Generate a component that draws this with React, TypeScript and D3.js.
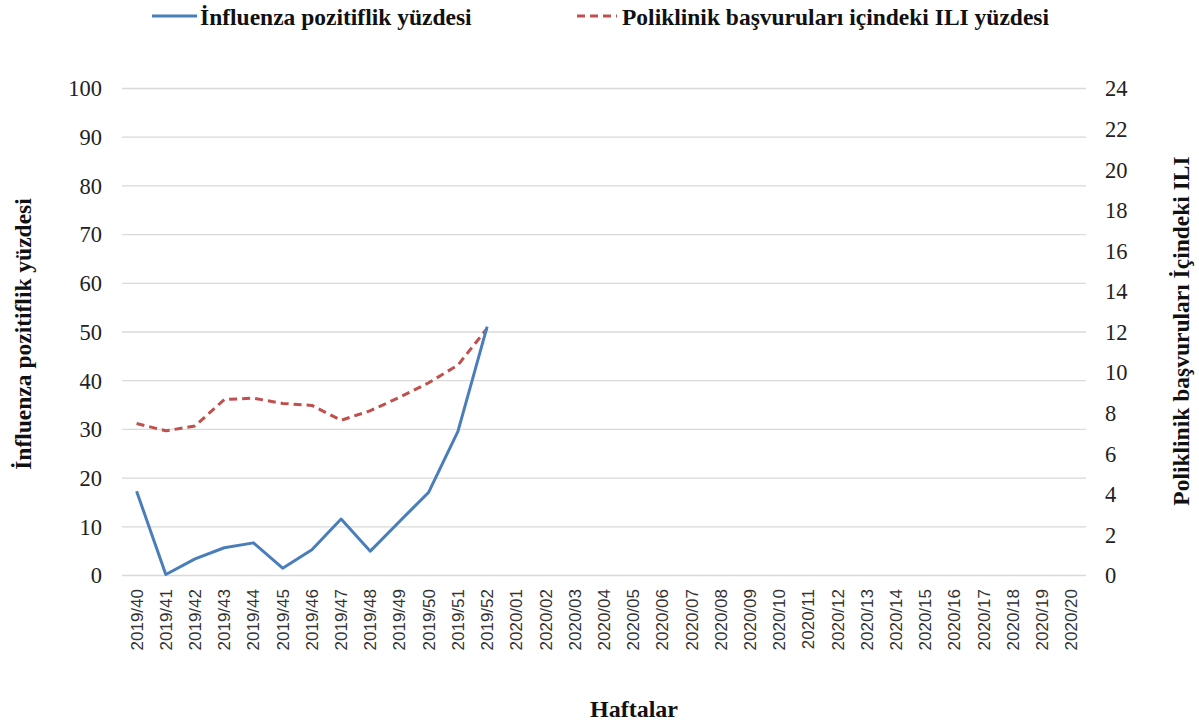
import React from "react";
import * as d3 from "d3";

const weeks: string[] = [
  "2019/40","2019/41","2019/42","2019/43","2019/44","2019/45","2019/46","2019/47","2019/48","2019/49","2019/50","2019/51","2019/52",
  "2020/01","2020/02","2020/03","2020/04","2020/05","2020/06","2020/07","2020/08","2020/09","2020/10",
  "2020/11","2020/12","2020/13","2020/14","2020/15","2020/16","2020/17","2020/18","2020/19","2020/20",
];
const influenzaPositivity: number[] = [17.3, 0.2, 3.4, 5.7, 6.7, 1.5, 5.3, 11.6, 5.0, 11.1, 17.1, 29.6, 51.1];
const iliPercent: number[] = [7.49, 7.13, 7.37, 8.67, 8.74, 8.48, 8.38, 7.65, 8.12, 8.78, 9.5, 10.37, 12.18];
const leftTicks: number[] = [0, 10, 20, 30, 40, 50, 60, 70, 80, 90, 100];
const rightTicks: number[] = [0, 2, 4, 6, 8, 10, 12, 14, 16, 18, 20, 22, 24];

const seriesNames = ["İnfluenza pozitiflik yüzdesi", "Poliklinik başvuruları içindeki ILI yüzdesi"];
const leftTitle = "İnfluenza pozitiflik yüzdesi";
const rightTitle = "Poliklinik başvuruları İçindeki ILI";
const xTitle = "Haftalar";

const W = 1199, H = 727;
const plot = { left: 122, right: 1086, top: 88.5, bottom: 575.5 };
const BLUE = "#4a7ebb";
const RED = "#c0504d";
const SERIF = "'Liberation Serif', 'Times New Roman', serif";
const SANS = "'Liberation Sans', Arial, sans-serif";

export default function App() {
  const x = d3.scaleBand<string>().domain(weeks).range([plot.left, plot.right]).padding(0);
  const cx = (w: string) => (x(w) as number) + x.bandwidth() / 2;
  const yL = d3.scaleLinear().domain([0, 100]).range([plot.bottom, plot.top]);
  const yR = d3.scaleLinear().domain([0, 24]).range([plot.bottom, plot.top]);

  const blueLine = d3.line<number>().x((_, i) => cx(weeks[i])).y((d) => yL(d))(influenzaPositivity) || "";
  const redLine = d3.line<number>().x((_, i) => cx(weeks[i])).y((d) => yR(d))(iliPercent) || "";

  return (
    <div style={{ position: "absolute", left: 0, top: 0 }}>
      <svg width={W} height={H} style={{ display: "block", background: "#fff" }}>
        {leftTicks.map((t) => (
          <line key={"g" + t} x1={plot.left} x2={plot.right} y1={yL(t)} y2={yL(t)} stroke="#d9d9d9" strokeWidth={1.3} />
        ))}
        {leftTicks.map((t) => (
          <text key={"l" + t} x={102} y={yL(t)} dy="0.35em" textAnchor="end" fontFamily={SERIF} fontSize={22.5} fill="#222">
            {t}
          </text>
        ))}
        {rightTicks.map((t) => (
          <text key={"r" + t} x={1105} y={yR(t)} dy="0.35em" textAnchor="start" fontFamily={SERIF} fontSize={22.5} fill="#222">
            {t}
          </text>
        ))}
        {weeks.map((w) => (
          <text
            key={w}
            transform={`translate(${cx(w)},${589}) rotate(-90)`}
            dy="0.35em"
            textAnchor="end"
            fontFamily={SANS}
            fontSize={17}
            fill="#333"
          >
            {w}
          </text>
        ))}
        <path d={redLine} fill="none" stroke={RED} strokeWidth={3} strokeDasharray="8,5" strokeLinejoin="round" />
        <path d={blueLine} fill="none" stroke={BLUE} strokeWidth={3} strokeLinejoin="round" />
        <text transform={`translate(31,334) rotate(-90)`} textAnchor="middle" fontFamily={SERIF} fontWeight="bold" fontSize={23.5} fill="#111">
          {leftTitle}
        </text>
        <text transform={`translate(1189,331) rotate(-90)`} textAnchor="middle" fontFamily={SERIF} fontWeight="bold" fontSize={23.5} fill="#111">
          {rightTitle}
        </text>
        <text x={634} y={717} textAnchor="middle" fontFamily={SERIF} fontWeight="bold" fontSize={24} fill="#111">
          {xTitle}
        </text>
        <line x1={152} x2={197} y1={16} y2={16} stroke={BLUE} strokeWidth={3} />
        <text x={200} y={25} fontFamily={SERIF} fontWeight="bold" fontSize={23.5} fill="#111">
          {seriesNames[0]}
        </text>
        <line x1={577} x2={617} y1={16} y2={16} stroke={RED} strokeWidth={3} strokeDasharray="8,5" />
        <text x={622} y={25} fontFamily={SERIF} fontWeight="bold" fontSize={23.5} fill="#111">
          {seriesNames[1]}
        </text>
      </svg>
    </div>
  );
}
